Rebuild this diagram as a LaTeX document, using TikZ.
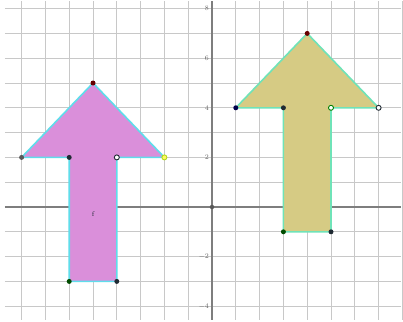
\documentclass[tikz,border=0pt]{standalone}
\usetikzlibrary{calc}
\definecolor{gridc}{HTML}{C8C8C8}
\definecolor{axisc}{HTML}{7E7E7E}
\definecolor{pinkfill}{HTML}{DA8FDA}
\definecolor{khakifill}{HTML}{D6CB84}
\definecolor{cyanline}{HTML}{5FDDEB}
\definecolor{greenline}{HTML}{6FE3B8}
\definecolor{dotc}{HTML}{1F2A33}
\tikzset{
  gridline/.style={gridc, line width=0.8pt},
  axisline/.style={axisc, line width=1.4pt},
  vdot/.style={circle, fill=dotc, inner sep=0pt, minimum size=5pt},
  odot/.style={circle, draw=#1, fill=white, line width=0.9pt, inner sep=0pt, minimum size=5pt},
  lbl/.style={font=\scriptsize, text=axisc!80!black, inner sep=0pt},
}
\begin{document}
\begin{tikzpicture}[x=23.8pt, y=24.8pt]
\useasboundingbox (-8.908,-4.597) rectangle (8.025,8.347);
\fill[white] (-8.908,-4.597) rectangle (8.025,8.347);
% grid
\foreach \k in {-8,...,8} \draw[gridline] (\k,-4.55) -- (\k,8.3);
\foreach \k in {-4,...,8} \draw[gridline] (-8.7,\k) -- (7.95,\k);
% axes
\draw[axisline] (-8.7,0) -- (7.95,0);
\draw[axisline] (0,-4.55) -- (0,8.3);
% y labels
\foreach \v/\t in {8/8,6/6,4/4,2/2,-2/$-2$,-4/$-4$}
  \node[lbl, anchor=east] at (-0.12,\v) {\t};
\node[circle, fill=axisc!70!black, inner sep=0pt, minimum size=4.5pt] (O) at (0,0) {};
% left arrow
\coordinate (LT) at (-5,5);
\coordinate (LA) at (-8,2);
\coordinate (LB) at (-6,2);
\coordinate (LC) at (-6,-3);
\coordinate (LD) at (-4,-3);
\coordinate (LE) at (-4,2);
\coordinate (LF) at (-2,2);
\filldraw[fill=pinkfill, draw=cyanline, line width=1.6pt, line join=round]
  (LT) -- (LA) -- (LB) -- (LC) -- (LD) -- (LE) -- (LF) -- cycle;
\node[lbl, text=dotc] (Lf) at (-5,-0.3) {f};
% right arrow
\coordinate (RT) at (4,7);
\coordinate (RA) at (1,4);
\coordinate (RB) at (3,4);
\coordinate (RC) at (3,-1);
\coordinate (RD) at (5,-1);
\coordinate (RE) at (5,4);
\coordinate (RF) at (7,4);
\filldraw[fill=khakifill, draw=greenline, line width=1.6pt, line join=round]
  (RT) -- (RA) -- (RB) -- (RC) -- (RD) -- (RE) -- (RF) -- cycle;
% vertex points
\node[vdot, fill=red!40!black] (pLT) at (LT) {};
\node[vdot, fill=gray!70!black] (pLA) at (LA) {};
\node[vdot] (pLB) at (LB) {};
\node[vdot, fill=green!30!black] (pLC) at (LC) {};
\node[vdot] (pLD) at (LD) {};
\node[odot=dotc] (pLE) at (LE) {};
\node[odot=yellow!70!green, fill=yellow!60] (pLF) at (LF) {};
\node[vdot, fill=red!40!black] (pRT) at (RT) {};
\node[vdot, fill=blue!30!black] (pRA) at (RA) {};
\node[vdot] (pRB) at (RB) {};
\node[vdot, fill=green!30!black] (pRC) at (RC) {};
\node[vdot] (pRD) at (RD) {};
\node[odot=green!50!black] (pRE) at (RE) {};
\node[odot=dotc] (pRF) at (RF) {};
\end{tikzpicture}
\end{document}
